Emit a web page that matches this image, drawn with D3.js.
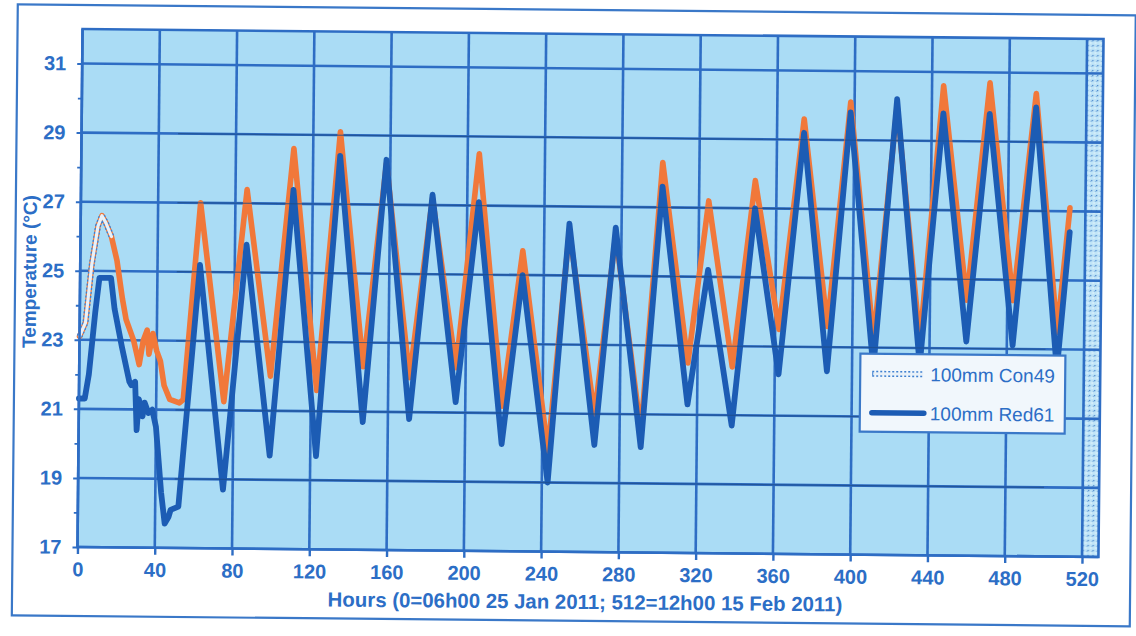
<!DOCTYPE html>
<html>
<head>
<meta charset="utf-8">
<script src="https://cdn.jsdelivr.net/npm/d3@7"></script>
<style>
  html, body { margin: 0; padding: 0; background: #ffffff; }
  svg { display: block; }
  text { font-family: "Liberation Sans", Arial, sans-serif; }
</style>
</head>
<body>
<svg id="chart" width="1136" height="636"></svg>
<script>
// Soil temperature at 100 mm depth, hourly record
const hoursCon49 = [0,3,6,9,11,13,16,19,22,24,28,31,33,35,36,38,40,42,44,47,52,54,62,75,86,99,110,123,134,147,158,171,182,195,206,219,229,243,253,267,277,291,301,315,325,338,349,362,374,387,398,411,422,435,446,459,470,483,494,506,512];
const tempCon49  = [23.1,23.5,25.2,26.3,26.6,26.4,26.0,25.3,24.2,23.6,23.0,22.3,23.0,23.3,22.6,23.2,22.7,22.4,21.7,21.3,21.2,21.3,27.0,21.25,27.4,22.0,28.6,21.6,29.1,22.3,28.2,22.0,27.2,22.3,28.5,21.2,25.7,19.9,26.3,20.95,26.2,20.5,28.3,22.5,27.2,22.4,27.8,23.5,29.6,23.6,30.1,23.2,30.0,23.2,30.6,24.4,30.7,24.4,30.4,23.5,27.1];

const hoursRed61 = [0,3,5,8,10,16,18,22,26,27,29,30,31,33,34,36,38,40,43,45,47,48,52,62,75,86,99,110,123,134,147,158,171,182,195,206,219,229,243,253,267,277,291,301,315,325,338,349,362,374,387,398,411,422,435,446,459,470,483,494,506,512];
const tempRed61  = [21.3,21.3,22.0,23.8,24.8,24.8,23.9,22.8,21.8,21.7,21.8,20.4,21.3,20.8,21.2,20.9,21.0,20.5,18.6,17.7,17.9,18.1,18.2,25.2,18.7,25.8,19.7,27.4,19.7,28.4,20.7,28.3,20.8,27.3,21.3,27.1,20.1,25.0,19.0,26.5,20.1,26.4,20.05,27.6,21.3,25.2,20.7,27.0,22.2,29.2,22.3,29.8,22.4,30.2,22.5,29.8,23.2,29.8,23.1,30.0,22.4,26.4];

const seriesNames = ["100mm Con49", "100mm Red61"];
const yMajorTicks = [17,19,21,23,25,27,29,31];
const yMinorTicks = [18,20,22,24,26,28,30];
const xTicks = [0,40,80,120,160,200,240,280,320,360,400,440,480,520];
const xTitle = "Hours (0=06h00 25 Jan 2011; 512=12h00 15 Feb 2011)";
const yTitle = "Temperature (\u00B0C)";

// the first hours of Con49 are drawn in the pale style shown in the legend
const paleUntilHour = 16;

const C = {
  text: "#2c6ec6",
  grid: "#2e6dc4",
  gridDark: "#1d4c88",
  plotBg: "#aadcf5",
  blue: "#1c5cb4",
  orange: "#f1783a",
  frame: "#3a78c8",
  pale: "#e9f1f8"
};

const svg = d3.select("#chart");
const root = svg.append("g").attr("transform", "rotate(0.56, 591, 293)");

const plot = { left: 80, right: 1101, top: 34, bottom: 552 };
const x = d3.scaleLinear().domain([0, 528.5]).range([plot.left, plot.right]);
const y = d3.scaleLinear().domain([17, 32]).range([plot.bottom, plot.top]);

// outer chart frame
root.append("rect")
  .attr("x", 15).attr("y", 10).attr("width", 1118).attr("height", 611)
  .attr("fill", "#ffffff").attr("stroke", C.frame).attr("stroke-width", 2.2);

// plot area
root.append("rect")
  .attr("x", plot.left).attr("y", plot.top)
  .attr("width", plot.right - plot.left).attr("height", plot.bottom - plot.top)
  .attr("fill", C.plotBg);

// grainy strip past the last hour gridline
const defs = svg.append("defs");
const pat = defs.append("pattern").attr("id", "grain")
  .attr("width", 5).attr("height", 5).attr("patternUnits", "userSpaceOnUse");
pat.append("rect").attr("width", 5).attr("height", 5).attr("fill", "#c4e6f8");
pat.append("rect").attr("x", 0).attr("y", 0).attr("width", 1.3).attr("height", 1.3).attr("fill", "#3b78c4");
pat.append("rect").attr("x", 2.5).attr("y", 2.5).attr("width", 1.2).attr("height", 1.2).attr("fill", "#ffffff");
pat.append("rect").attr("x", 3.8).attr("y", 0.8).attr("width", 1).attr("height", 1).attr("fill", "#5b93d4");
root.append("rect")
  .attr("x", x(520) + 1).attr("y", plot.top)
  .attr("width", plot.right - x(520) - 1).attr("height", plot.bottom - plot.top)
  .attr("fill", "url(#grain)").attr("opacity", 0.85);

// gridlines
const grid = root.append("g");
grid.selectAll("line.h").data(yMajorTicks).join("line")
  .attr("x1", plot.left).attr("x2", plot.right)
  .attr("y1", d => y(d)).attr("y2", d => y(d))
  .attr("stroke", C.grid).attr("stroke-width", 2.6);
grid.selectAll("line.v").data(xTicks).join("line")
  .attr("x1", d => x(d)).attr("x2", d => x(d))
  .attr("y1", plot.top).attr("y2", plot.bottom)
  .attr("stroke", C.grid).attr("stroke-width", 2.6);

// axes: ticks and labels
const yAxis = d3.axisLeft(y).tickValues(yMajorTicks).tickSize(5).tickPadding(11).tickFormat(d3.format("d"));
const yAxisG = root.append("g").attr("transform", `translate(${plot.left},0)`).call(yAxis);
yAxisG.select(".domain").remove();
yAxisG.selectAll(".tick line").attr("stroke", C.grid).attr("stroke-width", 2);
yAxisG.selectAll(".tick text")
  .attr("fill", C.text).attr("font-size", 20).attr("font-weight", "bold")
  .attr("font-family", "Liberation Sans, Arial, sans-serif");

const yMinor = d3.axisLeft(y).tickValues(yMinorTicks).tickSize(4).tickFormat("");
const yMinorG = root.append("g").attr("transform", `translate(${plot.left},0)`).call(yMinor);
yMinorG.select(".domain").remove();
yMinorG.selectAll(".tick line").attr("stroke", C.grid).attr("stroke-width", 1.8);

const xAxis = d3.axisBottom(x).tickValues(xTicks).tickSize(7).tickPadding(8).tickFormat(d3.format("d"));
const xAxisG = root.append("g").attr("transform", `translate(0,${plot.bottom})`).call(xAxis);
xAxisG.select(".domain").remove();
xAxisG.selectAll(".tick line").attr("stroke", C.grid).attr("stroke-width", 2.4);
xAxisG.selectAll(".tick text")
  .attr("fill", C.text).attr("font-size", 20).attr("font-weight", "bold")
  .attr("font-family", "Liberation Sans, Arial, sans-serif");

// series
const con49 = hoursCon49.map((h, i) => ({ h, t: tempCon49[i] }));
const red61 = hoursRed61.map((h, i) => ({ h, t: tempRed61[i] }));
const line = d3.line().x(d => x(d.h)).y(d => y(d.t)).curve(d3.curveLinear);

const series = root.append("g");
series.append("path").datum(con49)
  .attr("d", line).attr("fill", "none")
  .attr("stroke", C.orange).attr("stroke-width", 5.6)
  .attr("stroke-linejoin", "round").attr("stroke-linecap", "round");

const paleIdx = con49.findIndex(d => d.h > paleUntilHour);
const paleSeg = con49.slice(0, paleIdx);
series.append("path").datum(paleSeg)
  .attr("d", line).attr("fill", "none")
  .attr("stroke", "#3f80d0").attr("stroke-width", 6).attr("stroke-dasharray", "2 2")
  .attr("stroke-linejoin", "round");
series.append("path").datum(paleSeg)
  .attr("d", line).attr("fill", "none")
  .attr("stroke", C.pale).attr("stroke-width", 3.2)
  .attr("stroke-linejoin", "round").attr("stroke-linecap", "round");

series.append("path").datum(red61)
  .attr("d", line).attr("fill", "none")
  .attr("stroke", C.blue).attr("stroke-width", 5.8)
  .attr("stroke-linejoin", "round").attr("stroke-linecap", "round");

// printed horizontal rules show through the traces
root.append("g").selectAll("line").data(yMajorTicks.filter(d => d > 17 && d < 31)).join("line")
  .attr("x1", x(50)).attr("x2", x(500))
  .attr("y1", d => y(d)).attr("y2", d => y(d))
  .attr("stroke", C.gridDark).attr("stroke-width", 1.2).attr("opacity", 0.7);

// plot border
root.append("rect")
  .attr("x", plot.left).attr("y", plot.top)
  .attr("width", plot.right - plot.left).attr("height", plot.bottom - plot.top)
  .attr("fill", "none").attr("stroke", C.grid).attr("stroke-width", 2.6);

// axis titles
root.append("text")
  .attr("x", 588).attr("y", 609).attr("text-anchor", "middle")
  .attr("fill", C.text).attr("font-size", 20.4).attr("font-weight", "bold")
  .text(xTitle);
root.append("text")
  .attr("transform", "translate(36,277) rotate(-90)").attr("text-anchor", "middle")
  .attr("fill", C.text).attr("font-size", 19).attr("font-weight", "bold")
  .text(yTitle);

// legend
const lg = root.append("g");
lg.append("rect")
  .attr("x", 861).attr("y", 351).attr("width", 205).attr("height", 78)
  .attr("fill", "#f1f7fc").attr("stroke", C.frame).attr("stroke-width", 2.2);
const legendRows = [
  { name: seriesNames[0], y: 371, pale: true },
  { name: seriesNames[1], y: 410, pale: false }
];
legendRows.forEach(r => {
  if (r.pale) {
    lg.append("line").attr("x1", 873).attr("x2", 925).attr("y1", r.y).attr("y2", r.y)
      .attr("stroke", "#3f80d0").attr("stroke-width", 6).attr("stroke-dasharray", "2 2");
    lg.append("line").attr("x1", 874).attr("x2", 924).attr("y1", r.y).attr("y2", r.y)
      .attr("stroke", C.pale).attr("stroke-width", 3);
  } else {
    lg.append("line").attr("x1", 873).attr("x2", 925).attr("y1", r.y).attr("y2", r.y)
      .attr("stroke", C.blue).attr("stroke-width", 5.5).attr("stroke-linecap", "round");
  }
  lg.append("text").attr("x", 931).attr("y", r.y + 7)
    .attr("fill", C.text).attr("font-size", 19)
    .text(r.name);
});
</script>
</body>
</html>
